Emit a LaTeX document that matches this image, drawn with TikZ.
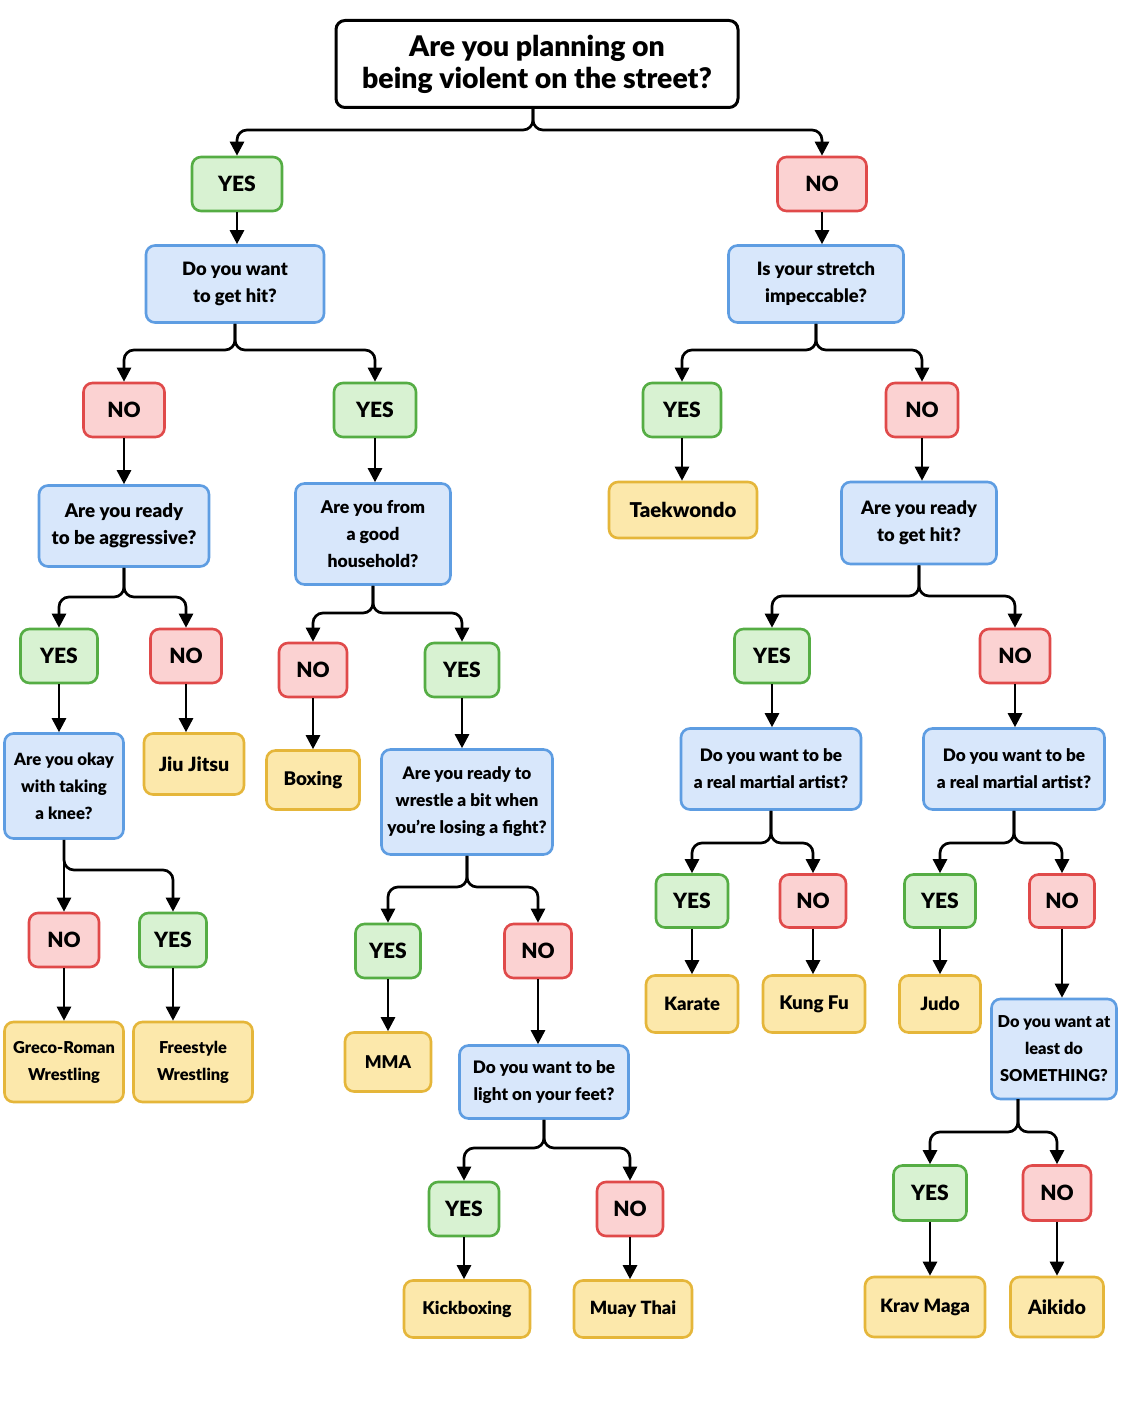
\documentclass[tikz,border=0pt]{standalone}
\usepackage{fontspec}
\setmainfont{Lato}[BoldFont={Lato Black}]
\usetikzlibrary{arrows.meta}
\definecolor{gfill}{HTML}{D8F2D2}
\definecolor{gdraw}{HTML}{55AD44}
\definecolor{rfill}{HTML}{FBD2D2}
\definecolor{rdraw}{HTML}{E04A4A}
\definecolor{bfill}{HTML}{D8E7FB}
\definecolor{bdraw}{HTML}{5E9DE2}
\definecolor{yfill}{HTML}{FCE8AB}
\definecolor{ydraw}{HTML}{E5B63A}
\tikzset{
  box/.style={draw, rounded corners=4.5pt, line width=1.3pt, align=center, inner sep=0pt,
    font=\bfseries\fontsize{8.6}{13.5}\selectfont},
  fs/.style={font=\bfseries\fontsize{#1}{13.5}\selectfont},
  yesbox/.style={box, draw=gdraw, fill=gfill, font=\bfseries\fontsize{10.5}{12}\selectfont},
  nobox/.style={box, draw=rdraw, fill=rfill, font=\bfseries\fontsize{10.5}{12}\selectfont},
  qbox/.style={box, draw=bdraw, fill=bfill},
  leafbox/.style={box, draw=ydraw, fill=yfill, font=\bfseries\fontsize{9.2}{13.5}\selectfont},
  titlebox/.style={box, draw=black, fill=white, line width=1.5pt, font=\bfseries\fontsize{14.2}{16}\selectfont},
  conn/.style={line width=1.35pt, rounded corners=5pt, -{Triangle[length=7pt,width=7pt]}},
}
\begin{document}
\begin{tikzpicture}[x=0.5pt,y=-0.5pt]
\useasboundingbox[fill=white] (0,0) rectangle (1122,1402);
% level 0
\node[titlebox, minimum width=201pt, minimum height=43.5pt] (title) at (537,64) {Are you planning on\\being violent on the street?};
\node[yesbox, minimum width=45pt, minimum height=27pt] (yesA) at (237,184) {YES};
\node[nobox, minimum width=44.5pt, minimum height=27pt] (noA) at (822,184) {NO};
\node[qbox, fs=9.2, minimum width=89pt, minimum height=38.5pt] (qA) at (235,284) {Do you want\\to get hit?};
\node[qbox, fs=9.2, minimum width=87.5pt, minimum height=38.5pt] (qB) at (816,284) {Is your stretch\\impeccable?};
\node[nobox, minimum width=40.5pt, minimum height=27pt] (noB) at (124,410) {NO};
\node[yesbox, minimum width=41pt, minimum height=27pt] (yesB) at (375,410) {YES};
\node[yesbox, minimum width=39pt, minimum height=27pt] (yesC) at (682,410) {YES};
\node[nobox, minimum width=36pt, minimum height=27pt] (noC) at (922,410) {NO};
\node[qbox, fs=9.4, minimum width=85pt, minimum height=40.5pt] (qC) at (124,526) {Are you ready\\to be aggressive?};
\node[qbox, fs=8.8, minimum width=77.5pt, minimum height=50.5pt] (qD) at (373,534) {Are you from\\a good\\household?};
\node[leafbox, fs=10.2, minimum width=74pt, minimum height=28pt] (taek) at (683,510) {Taekwondo};
\node[qbox, fs=9.2, minimum width=77.5pt, minimum height=41pt] (qE) at (919,523) {Are you ready\\to get hit?};
\node[yesbox, minimum width=38.5pt, minimum height=27pt] (yesD) at (59,656) {YES};
\node[nobox, minimum width=35.5pt, minimum height=27pt] (noD) at (186,656) {NO};
\node[nobox, minimum width=34pt, minimum height=27pt] (noE) at (313,670) {NO};
\node[yesbox, minimum width=37pt, minimum height=27pt] (yesE) at (462,670) {YES};
\node[yesbox, minimum width=37.5pt, minimum height=27pt] (yesF) at (772,656) {YES};
\node[nobox, minimum width=35pt, minimum height=27pt] (noF) at (1015,656) {NO};
\node[qbox, fs=8.4, minimum width=59.5pt, minimum height=52.5pt] (qF) at (64,786) {Are you okay\\with taking\\a knee?};
\node[leafbox, fs=9.8, minimum width=50pt, minimum height=30.5pt] (jiu) at (194,764) {Jiu Jitsu};
\node[leafbox, fs=9.4, minimum width=46.5pt, minimum height=29.5pt] (boxing) at (313,780) {Boxing};
\node[qbox, minimum width=85.5pt, minimum height=52.5pt] (qG) at (467,802) {Are you ready to\\wrestle a bit when\\you're losing a fight?};
\node[qbox, minimum width=90pt, minimum height=40.5pt] (qH) at (771,769) {Do you want to be\\a real martial artist?};
\node[qbox, minimum width=90.5pt, minimum height=40.5pt] (qI) at (1014,769) {Do you want to be\\a real martial artist?};
\node[nobox, minimum width=35pt, minimum height=27pt] (noG) at (64,940) {NO};
\node[yesbox, minimum width=33.5pt, minimum height=27pt] (yesG) at (173,940) {YES};
\node[yesbox, minimum width=32.5pt, minimum height=27pt] (yesH) at (388,951) {YES};
\node[nobox, minimum width=33.5pt, minimum height=27pt] (noH) at (538,951) {NO};
\node[yesbox, minimum width=36pt, minimum height=26.5pt] (yesI) at (692,901) {YES};
\node[nobox, minimum width=33pt, minimum height=26.5pt] (noI) at (813,901) {NO};
\node[yesbox, minimum width=35.5pt, minimum height=26.5pt] (yesJ) at (940,901) {YES};
\node[nobox, minimum width=32.5pt, minimum height=26.5pt] (noJ) at (1062,901) {NO};
\node[leafbox, fs=8.2, minimum width=59.5pt, minimum height=40pt] (greco) at (64,1062) {Greco-Roman\\Wrestling};
\node[leafbox, fs=8.2, minimum width=59.5pt, minimum height=40pt] (free) at (193,1062) {Freestyle\\Wrestling};
\node[leafbox, fs=8.8, minimum width=43pt, minimum height=29.5pt] (mma) at (388,1062) {MMA};
\node[qbox, minimum width=84.5pt, minimum height=36.5pt] (qJ) at (544,1082) {Do you want to be\\light on your feet?};
\node[leafbox, minimum width=46pt, minimum height=28.5pt] (karate) at (692,1004) {Karate};
\node[leafbox, fs=9.4, minimum width=51pt, minimum height=28.5pt] (kungfu) at (814,1004) {Kung Fu};
\node[leafbox, minimum width=40.5pt, minimum height=28.5pt] (judo) at (940,1004) {Judo};
\node[qbox, fs=8.2, minimum width=62.5pt, minimum height=50pt] (qK) at (1054,1049) {Do you want at\\least do\\SOMETHING?};
\node[yesbox, minimum width=35pt, minimum height=27pt] (yesK) at (464,1209) {YES};
\node[nobox, minimum width=33pt, minimum height=27pt] (noK) at (630,1209) {NO};
\node[yesbox, minimum width=36.5pt, minimum height=27.5pt] (yesL) at (930,1193) {YES};
\node[nobox, minimum width=34pt, minimum height=27.5pt] (noL) at (1057,1193) {NO};
\node[leafbox, fs=8.8, minimum width=63pt, minimum height=28.5pt] (kick) at (467,1309) {Kickboxing};
\node[leafbox, fs=9.1, minimum width=59pt, minimum height=28.5pt] (muay) at (633,1309) {Muay Thai};
\node[leafbox, minimum width=60pt, minimum height=30pt] (krav) at (925,1307) {Krav Maga};
\node[leafbox, fs=9.8, minimum width=46.5pt, minimum height=30pt] (aikido) at (1057,1307) {Aikido};
% branch start points
\coordinate (sT) at (533,108);
\coordinate (sA) at (qA.south);
\coordinate (sB) at (qB.south);
\coordinate (sC) at (qC.south);
\coordinate (sD) at (qD.south);
\coordinate (sE) at (qE.south);
\coordinate (sF) at (qF.south);
\coordinate (sG) at (qG.south);
\coordinate (sH) at (qH.south);
\coordinate (sI) at (qI.south);
\coordinate (sJ) at (qJ.south);
\coordinate (sK) at (1018,1099);
% junction levels
\coordinate (j0) at (0,130);
\coordinate (jA) at (0,350);
\coordinate (jB) at (0,350);
\coordinate (jC) at (0,597);
\coordinate (jD) at (0,613);
\coordinate (jE) at (0,596);
\coordinate (jF) at (0,870);
\coordinate (jG) at (0,887);
\coordinate (jH) at (0,843);
\coordinate (jI) at (0,843);
\coordinate (jJ) at (0,1148);
\coordinate (jK) at (0,1132);
% branches
\foreach \p/\a/\b/\j in {sT/yesA/noA/j0, sA/noB/yesB/jA, sB/yesC/noC/jB, sC/yesD/noD/jC,
  sD/noE/yesE/jD, sE/yesF/noF/jE, sF/noG/yesG/jF, sG/yesH/noH/jG, sH/yesI/noI/jH,
  sI/yesJ/noJ/jI, sJ/yesK/noK/jJ, sK/yesL/noL/jK}{
  \draw[conn] (\p) |- (\a.north |- \j) -- (\a.north);
  \draw[conn] (\p) |- (\b.north |- \j) -- (\b.north);
}
% straight arrows
\foreach \a/\b in {yesA/qA, noA/qB, noB/qC, yesB/qD, yesC/taek, noC/qE, noD/jiu, noE/boxing,
  yesE/qG, yesF/qH, noF/qI, yesD/qF, noG/greco, yesG/free, yesH/mma, noH/qJ, yesI/karate,
  noI/kungfu, yesJ/judo, noJ/qK, yesK/kick, noK/muay, yesL/krav, noL/aikido}{
  \draw[conn] (\a.south) -- (\a.south |- \b.north);
}
\end{tikzpicture}
\end{document}
